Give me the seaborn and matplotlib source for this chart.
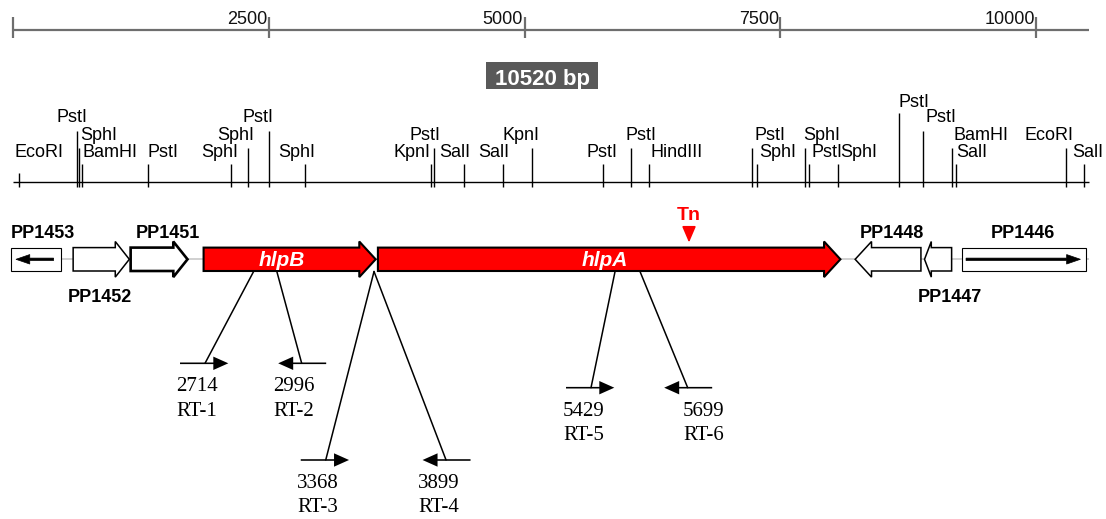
import numpy as np
import matplotlib
matplotlib.use("Agg")
import matplotlib.pyplot as plt
from matplotlib.patches import Polygon, Rectangle
import seaborn as sns

# ---- data (bp positions) ----
map_length = 10520
ruler_ticks = [2500, 5000, 7500, 10000]

site_names = ["EcoRI", "PstI", "SphI", "BamHI", "PstI", "SphI", "SphI", "PstI", "SphI",
              "KpnI", "PstI", "SalI", "SalI", "KpnI", "PstI", "PstI", "HindIII", "PstI",
              "SphI", "SphI", "PstI", "SphI", "PstI", "PstI", "BamHI", "SalI", "EcoRI", "SalI"]
site_pos = [55, 623, 645, 672, 1318, 2128, 2294, 2500, 2852,
            4086, 4118, 4412, 4793, 5070, 5767, 6041, 6220, 7224,
            7275, 7742, 7784, 8067, 8664, 8895, 9182, 9215, 10293, 10469]

gene_names = ["PP1453", "PP1452", "PP1451", "hlpB", "hlpA", "PP1448", "PP1447", "PP1446"]
gene_start = [-22, 588, 1150, 1863, 3567, 8232, 8910, 9281]
gene_end = [466, 1137, 1706, 3545, 8088, 8875, 9175, 10491]
gene_strand = [-1, 1, 1, 1, 1, -1, -1, 1]
gene_kind = ["box", "arrow", "arrow", "arrow", "arrow", "arrow", "arrow", "box"]

primer_names = ["RT-1", "RT-2", "RT-3", "RT-4", "RT-5", "RT-6"]
primer_numbers = ["2714", "2996", "3368", "3899", "5429", "5699"]
primer_anchor = [2352, 2579, 3529, 3529, 5885, 6129]
primer_foot = [1877, 2822, 3057, 4233, 5650, 6595]
primer_dir = [1, -1, 1, -1, 1, -1]

tn_pos = 6608

# ---- layout (pixel-like y, label tiers and nudges) ----
site_tier = [0, 3, 2, 1, 1, 1, 2, 3, 1, 1, 2, 1, 1, 2, 1, 2, 1, 2, 1, 2, 1, 1, 4, 3, 2, 1, 2, 1]
site_dx = [-4, -20, 1, 1, 0, -29, -30, -26, -27, -38, -25, -25, -25, -29, -16, -6, 1, 2,
           2, -2, 2, 2, -1, 3, 1, 0, -41, -12]
tier_top = {0: 173, 1: 164, 2: 148, 3: 131, 4: 113}
tier_text = {0: 157, 1: 157, 2: 140, 3: 122, 4: 107}

gene_label_side = ["above", "below", "above", "inside", "inside", "above", "below", "above"]
gene_label_dx = [7, -1, 9, -8, -4, 3.5, 11.5, -1]
gene_lw = [0.8, 1.1, 1.9, 1.5, 1.5, 1.1, 1.1, 0.8]

primer_row = [0, 0, 2, 2, 1, 1]
row_y = {0: 363.3, 1: 387.7, 2: 460}
primer_label_dx = [-8, -8, -8, -7, -7, 16]

px = 1 / 0.1023  # bp per pixel
gene_y = 259.3

sns.set_theme(style="white")
plt.rcParams['font.family'] = ['Liberation Sans', 'DejaVu Sans']
plt.rcParams['text.color'] = 'black'

fig = plt.figure(figsize=(11.06, 5.19), dpi=100)
ax = fig.add_axes([0, 0, 1, 1])
ax.set_xlim(-127, 10684)
ax.set_ylim(519, 0)
ax.axis("off")

# ruler
ax.hlines(30, 0, map_length, color="#6e6e6e", lw=1.6)
ax.vlines([0] + ruler_ticks, 16.5, 37.5, color="#6e6e6e", lw=1.6)
for t in ruler_ticks:
    ax.annotate(f"{t}", (t, 23.5), xytext=(-1, 0), textcoords="offset points",
                ha="right", va="baseline", fontsize=13, color="#111111")

# size badge
ax.add_patch(Rectangle((4624, 62.3), 112 * px, 27, fc="#595959", ec="none"))
ax.text(5171, 85, f"{map_length} bp", ha="center", va="baseline", color="white",
        fontsize=16, fontweight="bold")

# restriction map
ax.hlines(182, 0, map_length, color="black", lw=1.0)
for name, pos, tier, dx in zip(site_names, site_pos, site_tier, site_dx):
    ax.vlines(pos, tier_top[tier], 187, color="black", lw=1.0)
    ax.annotate(name, (pos, tier_text[tier]), xytext=(dx * 0.72, 0),
                textcoords="offset points", ha="left", va="baseline", fontsize=13)

# genes
ax.hlines(gene_y, 0, map_length, color="#c8c8c8", lw=1.2, zorder=1)
h, H = 11.7, 17.8
for i, name in enumerate(gene_names):
    s, e, strand = gene_start[i], gene_end[i], gene_strand[i]
    mid = (s + e) / 2
    if gene_kind[i] == "box":
        ax.add_patch(Rectangle((s, gene_y - 11.8), e - s, 23.6, fc="white", ec="black",
                               lw=gene_lw[i], zorder=2))
        tail, tip = (e - 69, s + 51) if strand < 0 else (s + 35, e - 57)
        ax.arrow(tail, gene_y, tip - tail, 0, width=2.4, head_width=9.5, head_length=135,
                 length_includes_head=True, fc="black", ec="black", lw=0.5, zorder=3)
    else:
        head = min(160, 0.25 * (e - s))
        if strand > 0:
            xs = [s, e - head, e - head, e, e - head, e - head, s]
        else:
            xs = [e, s + head, s + head, s, s + head, s + head, e]
        ys = [gene_y - h, gene_y - h, gene_y - H, gene_y, gene_y + H, gene_y + h, gene_y + h]
        fill = "#ff0000" if name.startswith("hlp") else "white"
        ax.add_patch(Polygon(list(zip(xs, ys)), closed=True, fc=fill, ec="black",
                             lw=gene_lw[i], joinstyle="miter", zorder=2))
    side = gene_label_side[i]
    lx = mid + gene_label_dx[i] * px
    if side == "inside":
        ax.text(lx, 266.5, name, ha="center", va="baseline", color="white",
                fontsize=15, fontweight="bold", fontstyle="italic", zorder=4)
    else:
        ly = 237.5 if side == "above" else 301.5
        ax.text(lx, ly, name, ha="center", va="baseline", fontsize=13, fontweight="bold")

# transposon insertion
ax.text(tn_pos, 220, "Tn", ha="center", va="baseline", color="#ff0000",
        fontsize=14, fontweight="bold")
ax.annotate("", xy=(tn_pos, 242.5), xytext=(tn_pos, 228),
            arrowprops=dict(arrowstyle="-|>,head_length=0.7,head_width=0.3",
                            color="#ff0000", lw=1.2, shrinkA=0, shrinkB=0,
                            mutation_scale=14))

# RT primers
for i, name in enumerate(primer_names):
    y = row_y[primer_row[i]]
    foot = primer_foot[i]
    ax.plot([primer_anchor[i], foot], [271.5, y], color="black", lw=1.1)
    if primer_dir[i] > 0:
        tail, tip = foot - 25 * px, foot + 23.3 * px
    else:
        tail, tip = foot + 24.5 * px, foot - 23.5 * px
    ax.arrow(tail, y, tip - tail, 0, width=1.6, head_width=13.4, head_length=15 * px,
             length_includes_head=True, fc="black", ec="none")
    lx = foot + primer_label_dx[i] * px
    ax.text(lx, y + 28, primer_numbers[i], ha="center", va="baseline",
            fontsize=15, family=["Liberation Serif", "DejaVu Serif"])
    ax.text(lx, y + 52.5, name, ha="center", va="baseline",
            fontsize=15, family=["Liberation Serif", "DejaVu Serif"])

fig.savefig("out.png", dpi=100)
